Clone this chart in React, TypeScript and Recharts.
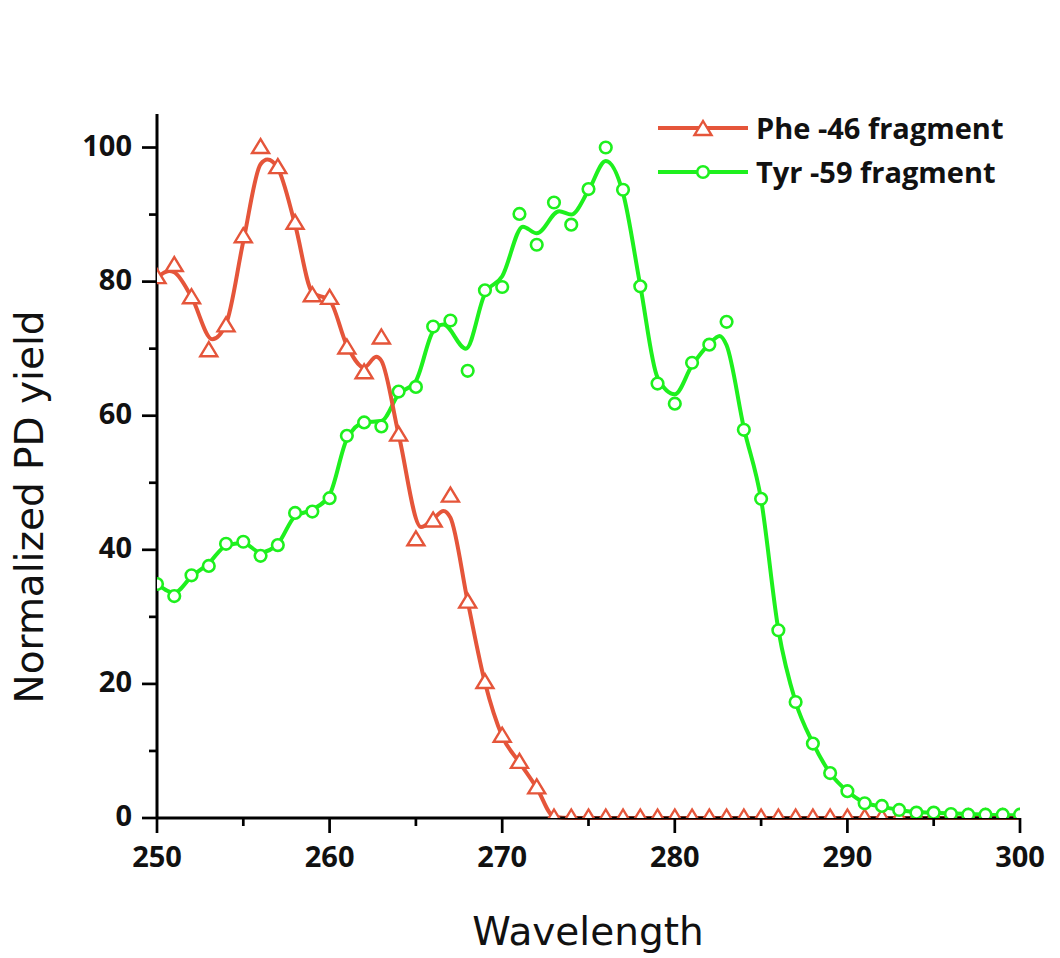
import React from "react";
import { ComposedChart, Line, XAxis, YAxis, Legend } from "recharts";

// measured points (markers)
const wavelength = [
  250, 251, 252, 253, 254, 255, 256, 257, 258, 259, 260, 261, 262, 263, 264, 265, 266,
  267, 268, 269, 270, 271, 272, 273, 274, 275, 276, 277, 278, 279, 280, 281, 282, 283,
  284, 285, 286, 287, 288, 289, 290, 291, 292, 293, 294, 295, 296, 297, 298, 299, 300,
];
const pheYield = [
  80.6, 82.4, 77.6, 69.7, 73.4, 86.7, 100, 97, 88.7, 77.9, 77.5, 70.1, 66.4, 71.6, 57.1, 41.5, 44.3,
  48.0, 32.2, 20.2, 12.2, 8.3, 4.5, 0, 0, 0, 0, 0, 0, 0, 0, 0, 0, 0,
  0, 0, 0, 0, 0, 0, 0, 0, 0, 0, 0, 0, 0, 0, 0, 0, 0,
];
const tyrYield = [
  34.9, 33.1, 36.2, 37.6, 40.9, 41.2, 39.1, 40.7, 45.5, 45.7, 47.7, 57.0, 59.0, 58.4, 63.6, 64.3, 73.3,
  74.2, 66.7, 78.7, 79.2, 90.1, 85.5, 91.8, 88.5, 93.8, 100, 93.7, 79.3, 64.8, 61.8, 67.9, 70.6, 74.0,
  57.9, 47.6, 28.0, 17.3, 11.1, 6.7, 4.0, 2.2, 1.8, 1.2, 0.8, 0.8, 0.6, 0.5, 0.5, 0.5, 0.5,
];

// smoothed curves
const pheFitX = [
  250, 250.7, 251, 252, 253.2, 254, 255, 256, 256.4, 257, 258, 259, 260, 261, 262, 262.7, 263,
  264, 265.3, 266, 266.6, 267, 268, 269, 270, 271, 272, 273, 274, 300,
];
const pheFitY = [
  80.6, 81.6, 81.4, 77.7, 71.4, 73.7, 86, 97.5, 98.2, 96.9, 88.5, 78.4, 77.2, 70.5, 67.2, 68.8, 68.2,
  57.2, 43.4, 44.6, 45.8, 44.8, 32.3, 20.2, 12.2, 8.3, 4.5, 0.2, 0, 0,
];
const tyrFitX = [
  250, 251, 252, 253, 254, 255, 256, 257, 258, 259, 260, 261, 262, 263, 264, 265, 266,
  266.6, 267.9, 269, 270, 271.2, 272, 273.3, 274, 275, 276, 277, 278, 279, 280, 281, 282,
  282.6, 283, 284, 285, 286, 287, 288, 289, 290, 291, 292, 293, 294, 296, 298, 300,
];
const tyrFitY = [
  34.9, 33.6, 36, 38, 40.6, 41, 39.6, 40.9, 45, 46, 48.2, 56.5, 59, 59.2, 63.2, 65.2, 72.6,
  73.6, 70.0, 78.2, 80.8, 88.2, 87.2, 90.5, 90, 93.6, 98, 93.2, 79.4, 65.7, 63.2, 67.5, 70.7,
  71.9, 70.5, 58.2, 47.5, 28.1, 17.3, 11.2, 6.7, 4.0, 2.3, 1.7, 1.2, 0.9, 0.7, 0.5, 0.4,
];

const xTicks = [250, 255, 260, 265, 270, 275, 280, 285, 290, 295, 300];
const yTicks = [0, 10, 20, 30, 40, 50, 60, 70, 80, 90, 100];

const PHE = "#E5553A";
const TYR = "#1EF01E";
const TICK_FONT = "'Open Sans', sans-serif";
const TITLE_FONT = "'DejaVu Sans', sans-serif";

const pheDots = wavelength.map((x, i) => ({ x, y: pheYield[i] }));
const tyrDots = wavelength.map((x, i) => ({ x, y: tyrYield[i] }));
const pheFit = pheFitX.map((x, i) => ({ x, y: pheFitY[i] }));
const tyrFit = tyrFitX.map((x, i) => ({ x, y: tyrFitY[i] }));

const triPath = (cx: number, cy: number) =>
  `M${cx},${cy - 8.5} L${cx - 8.5},${cy + 5.5} L${cx + 8.5},${cy + 5.5} Z`;

const renderTri = (p: any) => (
  <path key={`t-${p.index}`} d={triPath(p.cx, p.cy)} fill="#fff" stroke={PHE} strokeWidth={2.4} />
);
const renderCircle = (p: any) => (
  <circle key={`c-${p.index}`} cx={p.cx} cy={p.cy} r={5.8} fill="#fff" stroke={TYR} strokeWidth={2.6} />
);

const XTick = (p: any) => {
  const v = p.payload.value;
  const major = v % 10 === 0;
  return (
    <g>
      <line x1={p.x} x2={p.x} y1={p.y} y2={p.y + (major ? 15 : 8)} stroke="#000" strokeWidth={2.7} />
      {major && (
        <text x={p.x} y={p.y + 49} textAnchor="middle" fontFamily={TICK_FONT} fontWeight={700} fontSize={29} fill="#111">
          {v}
        </text>
      )}
    </g>
  );
};

const YTick = (p: any) => {
  const v = p.payload.value;
  const major = v % 20 === 0;
  return (
    <g>
      <line x1={p.x - (major ? 15 : 8)} x2={p.x} y1={p.y} y2={p.y} stroke="#000" strokeWidth={2.7} />
      {major && (
        <text x={p.x - 25} y={p.y + 8} textAnchor="end" fontFamily={TICK_FONT} fontWeight={700} fontSize={29} fill="#111">
          {v}
        </text>
      )}
    </g>
  );
};

const xTitle = () => (
  <text x={588} y={945} textAnchor="middle" fontFamily={TITLE_FONT} fontSize={39} fill="#111">
    Wavelength
  </text>
);
const yTitle = () => (
  <text transform="rotate(-90)" x={-507} y={43} textAnchor="middle" fontFamily={TITLE_FONT} fontSize={39} fill="#111">
    Normalized PD yield
  </text>
);

const legendRows = [
  { name: "Phe -46 fragment", color: PHE, marker: "triangle" },
  { name: "Tyr -59 fragment", color: TYR, marker: "circle" },
];

const LegendBox = () => (
  <div>
    {legendRows.map((r) => (
      <div key={r.name} style={{ display: "flex", alignItems: "center", height: 44 }}>
        <svg width={90} height={24}>
          <line x1={0} x2={90} y1={12} y2={12} stroke={r.color} strokeWidth={4} />
          {r.marker === "triangle" ? (
            <path d={triPath(45, 13.5)} fill="#fff" stroke={r.color} strokeWidth={2.4} />
          ) : (
            <circle cx={45} cy={12} r={5.8} fill="#fff" stroke={r.color} strokeWidth={2.6} />
          )}
        </svg>
        <span
          style={{
            marginLeft: 8,
            fontFamily: TICK_FONT,
            fontWeight: 700,
            fontSize: 29,
            color: "#111",
            whiteSpace: "nowrap",
            lineHeight: "44px",
          }}
        >
          {r.name}
        </span>
      </div>
    ))}
  </div>
);

export default function App() {
  return (
    <div style={{ position: "absolute", left: 0, top: 0, width: 1060, height: 958, background: "#fff" }}>
      <ComposedChart width={1060} height={958} margin={{ top: 114, right: 40, bottom: 0, left: 0 }}>
        <XAxis
          type="number"
          dataKey="x"
          domain={[250, 300]}
          ticks={xTicks}
          interval={0}
          height={140}
          tickSize={0}
          tickMargin={0}
          tickLine={false}
          tick={(p: any) => <XTick {...p} />}
          axisLine={{ stroke: "#000", strokeWidth: 3 }}
          label={xTitle}
        />
        <YAxis
          type="number"
          domain={[0, 105]}
          ticks={yTicks}
          interval={0}
          width={157}
          tickSize={0}
          tickMargin={0}
          tickLine={false}
          tick={(p: any) => <YTick {...p} />}
          axisLine={{ stroke: "#000", strokeWidth: 3 }}
          label={yTitle}
        />
        <XAxis xAxisId="clip" type="number" dataKey="x" domain={[250, 300]} hide allowDataOverflow />
        <YAxis yAxisId="clip" type="number" domain={[0, 105]} hide allowDataOverflow />
        <Legend
          layout="vertical"
          align="center"
          verticalAlign="middle"
          content={() => <LegendBox />}
          wrapperStyle={{ left: 658, top: 106, width: 400 }}
        />
        <Line data={tyrFit} dataKey="y" type="monotone" stroke={TYR} strokeWidth={4} dot={false} activeDot={false} isAnimationActive={false} />
        <Line data={pheFit} dataKey="y" type="monotone" stroke={PHE} strokeWidth={4} dot={false} activeDot={false} isAnimationActive={false} />
        <Line
          data={pheDots}
          dataKey="y"
          xAxisId="clip"
          yAxisId="clip"
          stroke="none"
          dot={renderTri}
          activeDot={false}
          isAnimationActive={false}
        />
        <Line
          data={tyrDots}
          dataKey="y"
          xAxisId="clip"
          yAxisId="clip"
          stroke="none"
          dot={renderCircle}
          activeDot={false}
          isAnimationActive={false}
        />
      </ComposedChart>
    </div>
  );
}
